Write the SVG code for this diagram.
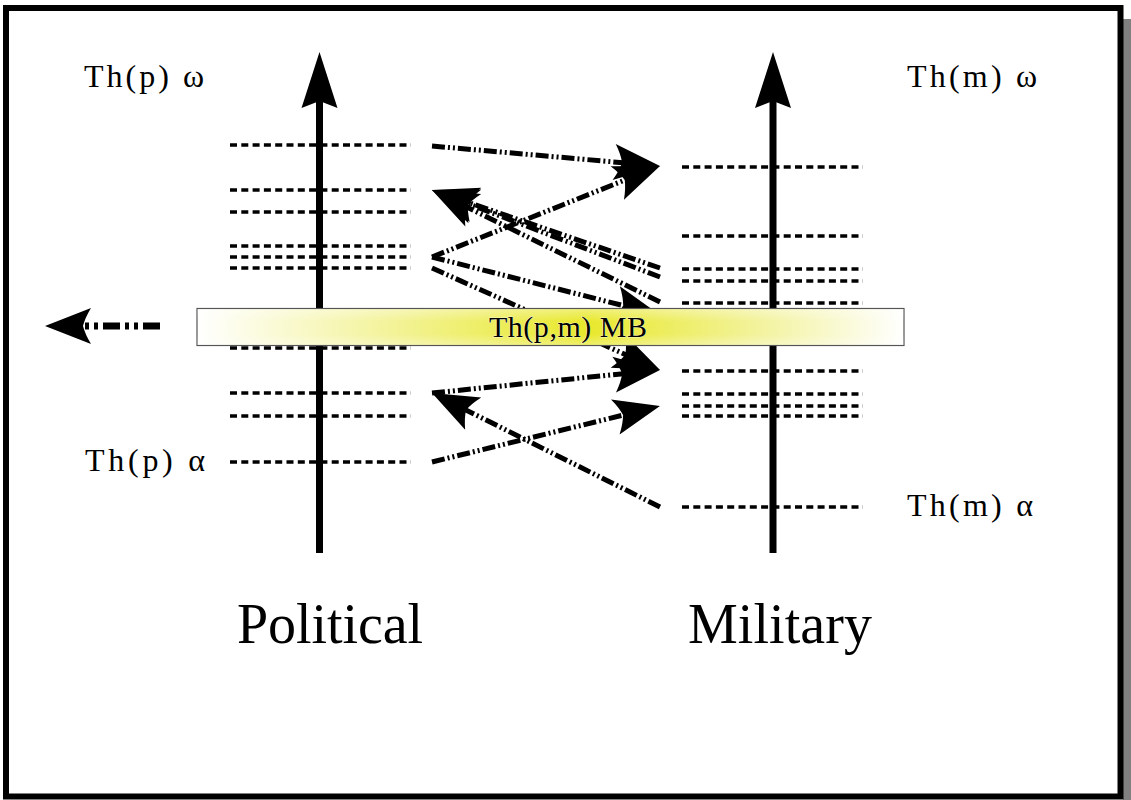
<svg xmlns="http://www.w3.org/2000/svg" width="1131" height="800" viewBox="0 0 1131 800">
<style>
.lvl{stroke:#000;stroke-width:3.5;stroke-dasharray:7 4.3;fill:none}
.axis{stroke:#000;stroke-width:7;fill:none}
.con{stroke:#000;stroke-width:5;fill:none;stroke-dasharray:13 3 2 3 2 3;marker-end:url(#ah)}
.lbl{font-family:"Liberation Serif","Times New Roman",serif;font-size:32px;fill:#000}
.big{font-family:"Liberation Serif","Times New Roman",serif;font-size:56px;fill:#000}
</style>
<defs>
<marker id="ah" markerUnits="userSpaceOnUse" markerWidth="60" markerHeight="50" viewBox="-50 -25 60 50" refX="-25" refY="0" orient="auto">
<path d="M0,0 L-46,-18 Q-40,-8 -38,0 Q-40,8 -46,18 Z" fill="#000"/>
</marker>
<marker id="axh" markerUnits="userSpaceOnUse" markerWidth="70" markerHeight="50" viewBox="-60 -25 70 50" refX="-25" refY="0" orient="auto">
<path d="M0,0 L-56,-18 L-49,0 L-56,18 Z" fill="#000"/>
</marker>
<linearGradient id="mbg" x1="0" y1="0" x2="1" y2="0">
<stop offset="0" stop-color="#ffffff"/>
<stop offset="0.3" stop-color="#f2f290"/>
<stop offset="0.55" stop-color="#e8e82c"/>
<stop offset="0.8" stop-color="#f3f3a0"/>
<stop offset="1" stop-color="#ffffff"/>
</linearGradient>
<linearGradient id="mbv" x1="0" y1="0" x2="0" y2="1">
<stop offset="0" stop-color="#ffffff" stop-opacity="0.35"/>
<stop offset="0.35" stop-color="#ffffff" stop-opacity="0"/>
<stop offset="0.7" stop-color="#ffffff" stop-opacity="0"/>
<stop offset="1" stop-color="#ffffff" stop-opacity="0.3"/>
</linearGradient>
</defs>
<rect x="0" y="0" width="1131" height="800" fill="#ffffff"/>
<rect x="1123" y="19" width="8" height="781" fill="#808080"/>
<rect x="6" y="8" width="1114.5" height="788.5" fill="none" stroke="#000" stroke-width="6"/>

<g id="political-levels">
<line class="lvl" x1="230" y1="145" x2="411" y2="145"/>
<line class="lvl" x1="230" y1="190" x2="411" y2="190"/>
<line class="lvl" x1="230" y1="212" x2="411" y2="212"/>
<line class="lvl" x1="230" y1="246" x2="411" y2="246"/>
<line class="lvl" x1="230" y1="257" x2="411" y2="257"/>
<line class="lvl" x1="230" y1="268" x2="411" y2="268"/>
<line class="lvl" x1="230" y1="348" x2="411" y2="348"/>
<line class="lvl" x1="230" y1="393" x2="411" y2="393"/>
<line class="lvl" x1="230" y1="416" x2="411" y2="416"/>
<line class="lvl" x1="230" y1="462" x2="411" y2="462"/>
</g>
<g id="military-levels">
<line class="lvl" x1="682" y1="167" x2="863" y2="167"/>
<line class="lvl" x1="682" y1="236" x2="863" y2="236"/>
<line class="lvl" x1="682" y1="269" x2="863" y2="269"/>
<line class="lvl" x1="682" y1="281" x2="863" y2="281"/>
<line class="lvl" x1="682" y1="303" x2="863" y2="303"/>
<line class="lvl" x1="682" y1="371" x2="863" y2="371"/>
<line class="lvl" x1="682" y1="394" x2="863" y2="394"/>
<line class="lvl" x1="682" y1="406" x2="863" y2="406"/>
<line class="lvl" x1="682" y1="416" x2="863" y2="416"/>
<line class="lvl" x1="682" y1="507" x2="863" y2="507"/>
</g>

<g id="political-axis">
<line class="axis" x1="319.5" y1="553" x2="319.5" y2="77" marker-end="url(#axh)"/>
</g>
<g id="military-axis">
<line class="axis" x1="773" y1="553" x2="773" y2="77" marker-end="url(#axh)"/>
</g>

<g id="connectors">
<line class="con" x1="432" y1="146" x2="635.1" y2="163.8"/>
<line class="con" x1="432" y1="257" x2="636.8" y2="175.3"/>
<line class="con" x1="660" y1="268" x2="455.6" y2="198.1"/>
<line class="con" x1="660" y1="277" x2="455.3" y2="198.9"/>
<line class="con" x1="660" y1="302" x2="454.4" y2="201.0"/>
<line class="con" x1="432" y1="257" x2="635.8" y2="308.8"/>
<line class="con" x1="432" y1="268" x2="637.2" y2="359.8"/>
<line class="con" x1="432" y1="393" x2="635.1" y2="372.5"/>
<line class="con" x1="432" y1="462" x2="635.7" y2="412.0"/>
<line class="con" x1="660" y1="507" x2="454.4" y2="404.2"/>
<line class="con" x1="160" y1="326" x2="70" y2="326" style="stroke-width:7;stroke-dasharray:17 5 4 5 4 5"/>
</g>

<g id="mb-bar">
<rect x="197" y="308.5" width="707" height="37" fill="url(#mbg)" stroke="#555" stroke-width="1.2"/>
<rect x="197.6" y="309" width="705.8" height="36" fill="url(#mbv)"/>
<text class="lbl" x="568" y="337" text-anchor="middle" textLength="158" lengthAdjust="spacing" style="font-size:30px;stroke:#ffffff;stroke-width:0.6;paint-order:stroke">Th(p,m) MB</text>
</g>

<g id="labels">
<text class="lbl" x="84" y="87" textLength="120" lengthAdjust="spacing">Th(p) ω</text>
<text class="lbl" x="907" y="87" textLength="130" lengthAdjust="spacing">Th(m) ω</text>
<text class="lbl" x="85" y="471" textLength="120" lengthAdjust="spacing">Th(p) α</text>
<text class="lbl" x="907" y="516" textLength="126" lengthAdjust="spacing">Th(m) α</text>
<text class="big" x="237" y="643" textLength="186" lengthAdjust="spacing">Political</text>
<text class="big" x="688" y="643" textLength="184" lengthAdjust="spacing">Military</text>
</g>
</svg>
